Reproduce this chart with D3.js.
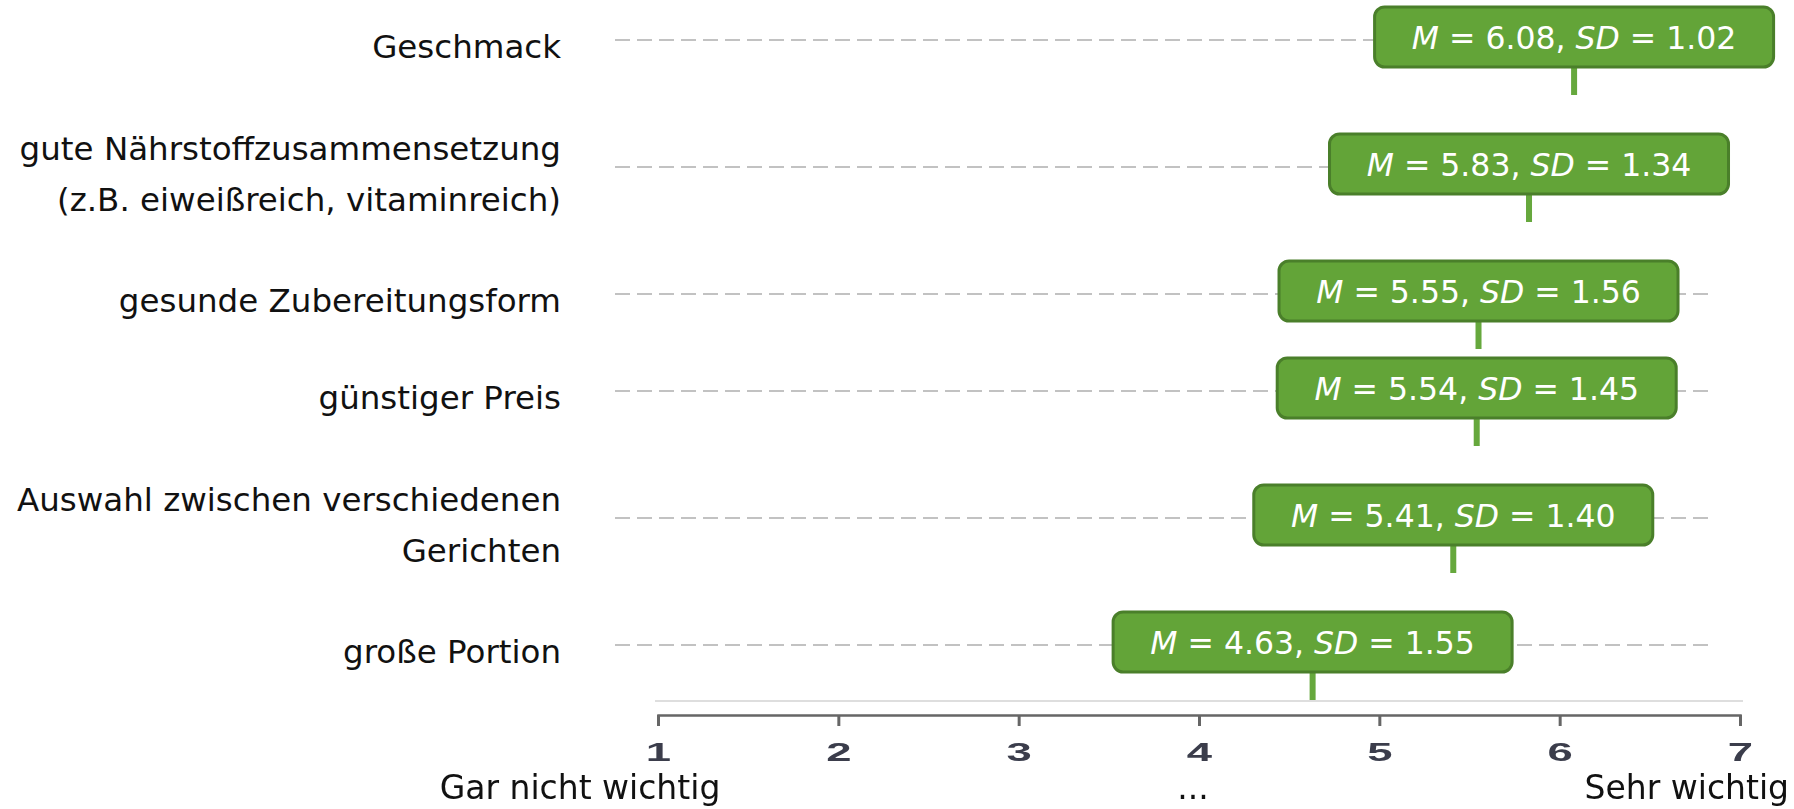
<!DOCTYPE html>
<html>
<head>
<meta charset="utf-8">
<script src="https://cdn.jsdelivr.net/npm/d3@7"></script>
<style>
  html, body { margin: 0; padding: 0; background: #fff; }
  svg { display: block; }
</style>
</head>
<body>
<svg id="chart" width="1794" height="809"></svg>
<script>
// Wichtigkeit der Eigenschaften (Skala 1–7)
const categories = [
  ["Geschmack"],
  ["gute Nährstoffzusammensetzung", "(z.B. eiweißreich, vitaminreich)"],
  ["gesunde Zubereitungsform"],
  ["günstiger Preis"],
  ["Auswahl zwischen verschiedenen", "Gerichten"],
  ["große Portion"]
];
const means = [6.08, 5.83, 5.55, 5.54, 5.41, 4.63];
const sds = [1.02, 1.34, 1.56, 1.45, 1.40, 1.55];
const tickValues = [1, 2, 3, 4, 5, 6, 7];
const scaleLabels = ["Gar nicht wichtig", "...", "Sehr wichtig"];

const W = 1794, H = 809;
const svg = d3.select("#chart");
const font = "'DejaVu Sans', sans-serif";

const x = d3.scaleLinear().domain([1, 7]).range([658, 1740]);

// Row positions: rows with two-line labels get extra room.
const rowTop = 40, rowGap = 97, extraPerDouble = 30;
const rowY = [];
categories.forEach((c, i) => {
  if (i === 0) { rowY.push(rowTop); return; }
  const prev = categories[i - 1];
  const doubles = (prev.length > 1 ? 1 : 0) + (c.length > 1 ? 1 : 0);
  rowY.push(rowY[i - 1] + rowGap + extraPerDouble * doubles);
});

const rows = categories.map((lines, i) => ({
  lines, mean: means[i], sd: sds[i], y: rowY[i]
}));

// Dashed guide lines
svg.append("g").selectAll("line")
  .data(rows)
  .join("line")
  .attr("x1", 615).attr("x2", 1708)
  .attr("y1", d => d.y).attr("y2", d => d.y)
  .attr("stroke", "#c2c2c2")
  .attr("stroke-width", 2)
  .attr("stroke-dasharray", "15,7");

// Category labels, right aligned
const lineH = 51;
svg.append("g").selectAll("text")
  .data(rows)
  .join("text")
  .attr("text-anchor", "end")
  .attr("font-family", font)
  .attr("font-size", 32.5)
  .attr("fill", "#111")
  .each(function (d) {
    const t = d3.select(this);
    const n = d.lines.length;
    d.lines.forEach((ln, k) => {
      t.append("tspan")
        .attr("x", 561)
        .attr("y", d.y + 18 + (k - (n - 1) / 2) * lineH)
        .text(ln);
    });
  });

// Light baseline above the axis
svg.append("line")
  .attr("x1", x(1) - 3).attr("x2", x(7) + 3)
  .attr("y1", 701).attr("y2", 701)
  .attr("stroke", "#dedede").attr("stroke-width", 2);

// Axis (slightly soft)
const defs = svg.append("defs");
defs.append("filter").attr("id", "soft")
  .append("feGaussianBlur").attr("stdDeviation", 0.7);

const axisG = svg.append("g")
  .attr("transform", "translate(0,715)")
  .attr("filter", "url(#soft)")
  .call(d3.axisBottom(x).tickValues(tickValues).tickSize(11).tickSizeOuter(11).tickFormat(""));
axisG.select(".domain").attr("stroke", "#666").attr("stroke-width", 2.5);
axisG.selectAll(".tick line").attr("stroke", "#666").attr("stroke-width", 3);

axisG.selectAll(".tick")
  .append("text")
  .attr("transform", "translate(0,46) scale(1.75,1)")
  .attr("text-anchor", "middle")
  .attr("font-family", "'Liberation Sans', Arial, sans-serif")
  .attr("font-weight", "bold")
  .attr("font-size", 26)
  .attr("fill", "#3a3d4c")
  .text(d => d);

// Scale anchors below the axis
const anchorSize = 33;
const anchorY = 799;
svg.append("text")
  .attr("x", x(1) - 78).attr("y", anchorY)
  .attr("text-anchor", "middle")
  .attr("font-family", font).attr("font-size", anchorSize).attr("fill", "#111")
  .text(scaleLabels[0]);
svg.append("text")
  .attr("x", x(4) - 6).attr("y", anchorY)
  .attr("text-anchor", "middle")
  .attr("font-family", font).attr("font-size", anchorSize).attr("fill", "#111")
  .text(scaleLabels[1]);
svg.append("text")
  .attr("x", W - 5).attr("y", anchorY)
  .attr("text-anchor", "end")
  .attr("font-family", font).attr("font-size", anchorSize).attr("fill", "#111")
  .text(scaleLabels[2]);

// Value callouts: box with M/SD and a pointer at the mean
const boxW = 399, boxH = 60, boxLift = 3, stick = 28;
const fmt = d3.format(".2f");
const callouts = svg.append("g").selectAll("g")
  .data(rows)
  .join("g")
  .attr("transform", d => `translate(${x(d.mean)},${d.y - boxLift})`);

callouts.append("rect")
  .attr("x", -3)
  .attr("y", boxH / 2 - 2)
  .attr("width", 6)
  .attr("height", stick + 2)
  .attr("fill", "#66a83d");

callouts.append("rect")
  .attr("x", -boxW / 2).attr("y", -boxH / 2)
  .attr("width", boxW).attr("height", boxH)
  .attr("rx", 10).attr("ry", 10)
  .attr("fill", "#63a438")
  .attr("stroke", "#4a7f2a")
  .attr("stroke-width", 3);

const label = callouts.append("text")
  .attr("text-anchor", "middle")
  .attr("y", 12)
  .attr("font-family", font)
  .attr("font-size", 31.5)
  .attr("fill", "#fff");
label.append("tspan").attr("font-style", "italic").text("M");
label.append("tspan").text(d => ` = ${fmt(d.mean)}, `);
label.append("tspan").attr("font-style", "italic").text("SD");
label.append("tspan").text(d => ` = ${fmt(d.sd)}`);
</script>
</body>
</html>
